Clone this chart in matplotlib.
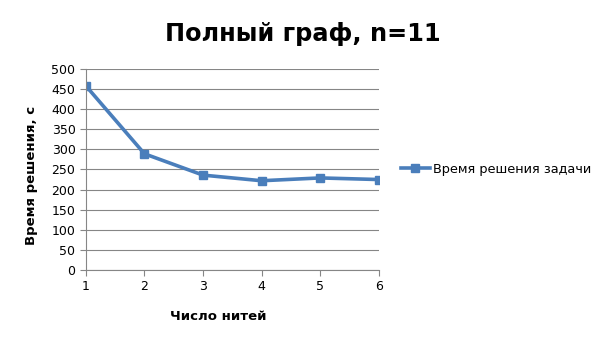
import matplotlib
matplotlib.use('Agg')
import matplotlib.pyplot as plt

threads = [1, 2, 3, 4, 5, 6]
solve_time = [458, 289, 236, 222, 229, 225]
y_ticks = list(range(0, 501, 50))

plt.rcParams['font.family'] = ['DejaVu Sans']

fig = plt.figure(figsize=(6.05, 3.4), dpi=100)
ax = fig.add_axes([0.142, 0.206, 0.484, 0.591])

ax.plot(threads, solve_time, color='#4a7ebb', linewidth=2.6, marker='s',
        markersize=6, label='Время решения задачи')

ax.set_xlim(1, 6)
ax.set_ylim(0, 500)
ax.set_yticks(y_ticks)
ax.set_xticks(threads)
ax.grid(axis='y', color='#868686', linewidth=0.8)
ax.set_axisbelow(True)
for s in ['top', 'right']:
    ax.spines[s].set_visible(False)
for s in ['left', 'bottom']:
    ax.spines[s].set_color('#868686')
ax.tick_params(colors='#868686', labelcolor='black', labelsize=9, length=4)

ax.set_xlabel('Число нитей', fontsize=9.5, fontweight='bold')
ax.xaxis.set_label_coords(0.452, -0.2)
ax.set_ylabel('Время решения, с', fontsize=9.5, fontweight='bold')
ax.yaxis.set_label_coords(-0.165, 0.47)
fig.text(0.5, 0.9, 'Полный граф, n=11', fontsize=17.3, fontweight='bold',
         ha='center', va='center')

ax.legend(loc='center left', bbox_to_anchor=(1.037, 0.5), frameon=False,
          fontsize=9.3, handlelength=2.2, handletextpad=0.25)

fig.savefig('out.png', dpi=100)
